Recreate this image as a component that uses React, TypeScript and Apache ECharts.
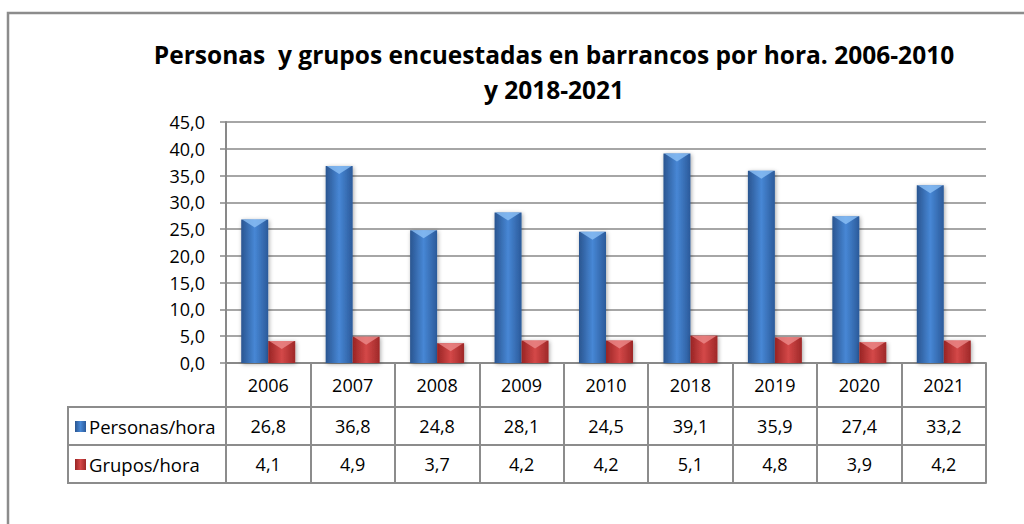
import React, { useEffect, useRef } from 'react';
import * as echarts from 'echarts';

const years = ['2006', '2007', '2008', '2009', '2010', '2018', '2019', '2020', '2021'];
const personas = [26.8, 36.8, 24.8, 28.1, 24.5, 39.1, 35.9, 27.4, 33.2];
const grupos = [4.1, 4.9, 3.7, 4.2, 4.2, 5.1, 4.8, 3.9, 4.2];
const seriesNames = ['Personas/hora', 'Grupos/hora'];
const titleText = 'Personas  y grupos encuestadas en barrancos por hora. 2006-2010\ny 2018-2021';
const yMin = 0;
const yMax = 45;
const yStep = 5;

const fmt = (v: number) => v.toFixed(1).replace('.', ',');

const FONT = 'Open Sans';
const GRID_COLOR = '#898989';
const TABLE_COLOR = '#8c8c8c';

export default function App() {
  const ref = useRef<HTMLDivElement>(null);
  useEffect(() => {
    if (!ref.current) return;
    const chart = echarts.init(ref.current, undefined, { renderer: 'svg' });
    const blue = new echarts.graphic.LinearGradient(0, 0, 1, 0, [
      { offset: 0, color: '#2a5590' },
      { offset: 0.5, color: '#4787d5' },
      { offset: 1, color: '#2b5a9a' },
    ]);
    const red = new echarts.graphic.LinearGradient(0, 0, 1, 0, [
      { offset: 0, color: '#982424' },
      { offset: 0.5, color: '#d44848' },
      { offset: 1, color: '#9e2828' },
    ]);
    const labelStyle = { fontFamily: FONT, fontSize: 18, color: '#000' };
    const tableAxis = (data: string[], offset: number, showLabel: boolean) => ({
      type: 'category',
      data,
      position: 'bottom',
      offset,
      axisLine: { show: true, lineStyle: { color: TABLE_COLOR, width: 2 } },
      axisTick: { show: false },
      axisLabel: { show: showLabel, margin: 19, verticalAlign: 'middle', ...labelStyle },
      splitLine: { show: false },
    });
    chart.setOption({
      animation: false,
      title: {
        text: titleText,
        left: 549,
        top: 32,
        textAlign: 'center',
        textStyle: { fontFamily: FONT, fontSize: 24.5, fontWeight: 'bold', color: '#000', lineHeight: 35 },
      },
      legend: [
        {
          data: [seriesNames[0]],
          left: 75,
          top: 417,
          padding: 0,
          icon: 'rect',
          itemWidth: 11,
          itemHeight: 11,
          textStyle: { ...labelStyle, fontSize: 18.5, padding: [0, 0, 0, -2] },
        },
        {
          data: [seriesNames[1]],
          left: 75,
          top: 455,
          padding: 0,
          icon: 'rect',
          itemWidth: 11,
          itemHeight: 11,
          textStyle: { ...labelStyle, fontSize: 18.5, padding: [0, 0, 0, -2] },
        },
      ],
      grid: { left: 226, right: 38, top: 122, bottom: 161, containLabel: false },
      xAxis: [
        {
          type: 'category',
          data: years,
          position: 'bottom',
          axisLine: { show: true, lineStyle: { color: GRID_COLOR, width: 2 } },
          axisTick: { show: true, alignWithLabel: false, length: 120, lineStyle: { color: TABLE_COLOR, width: 2 } },
          axisLabel: { margin: 22, verticalAlign: 'middle', ...labelStyle },
          splitLine: { show: false },
        },
        tableAxis(personas.map(fmt), 44, true),
        tableAxis(grupos.map(fmt), 82, true),
        tableAxis(years, 120, false),
      ],
      yAxis: {
        type: 'value',
        min: yMin,
        max: yMax,
        interval: yStep,
        axisLine: { show: true, lineStyle: { color: GRID_COLOR, width: 2 } },
        axisTick: { show: true, length: 6, lineStyle: { color: GRID_COLOR, width: 1.5 } },
        axisLabel: { margin: 21, formatter: (v: number) => fmt(v), ...labelStyle },
        splitLine: { show: true, lineStyle: { color: GRID_COLOR, width: 1.5 } },
      },
      series: [
        {
          name: seriesNames[0],
          type: 'bar',
          data: personas,
          barWidth: 27,
          barGap: '0%',
          itemStyle: { color: blue, shadowBlur: 4, shadowColor: 'rgba(0,0,0,0.35)', shadowOffsetX: 1, shadowOffsetY: 1 },
        },
        {
          name: seriesNames[1],
          type: 'bar',
          data: grupos,
          barWidth: 27,
          barGap: '0%',
          itemStyle: { color: red, shadowBlur: 4, shadowColor: 'rgba(0,0,0,0.35)', shadowOffsetX: 1, shadowOffsetY: 1 },
        },
        {
          name: 'top1',
          type: 'scatter',
          data: personas,
          symbol: 'triangle',
          symbolRotate: 180,
          symbolSize: [25, 8],
          symbolOffset: [-13.5, 4],
          itemStyle: { color: '#8cc0f6' },
          silent: true,
          z: 3,
        },
        {
          name: 'top2',
          type: 'scatter',
          data: grupos,
          symbol: 'triangle',
          symbolRotate: 180,
          symbolSize: [25, 8],
          symbolOffset: [13.5, 4],
          itemStyle: { color: '#ec8a8a' },
          silent: true,
          z: 3,
        },
      ],
      graphic: [
        { type: 'rect', shape: { x: 8, y: 13, width: 1100, height: 600 }, style: { fill: 'none', stroke: '#8c8c8c', lineWidth: 2.5 }, silent: true },
        { type: 'line', shape: { x1: 68, y1: 407, x2: 226, y2: 407 }, style: { stroke: TABLE_COLOR, lineWidth: 2 } },
        { type: 'line', shape: { x1: 68, y1: 445, x2: 226, y2: 445 }, style: { stroke: TABLE_COLOR, lineWidth: 2 } },
        { type: 'line', shape: { x1: 68, y1: 483, x2: 226, y2: 483 }, style: { stroke: TABLE_COLOR, lineWidth: 2 } },
        { type: 'line', shape: { x1: 68, y1: 406, x2: 68, y2: 484 }, style: { stroke: TABLE_COLOR, lineWidth: 2 } },
      ],
    });
    return () => chart.dispose();
  }, []);
  return <div ref={ref} style={{ position: 'absolute', left: 0, top: 0, width: 1024, height: 524, background: '#fff' }} />;
}
